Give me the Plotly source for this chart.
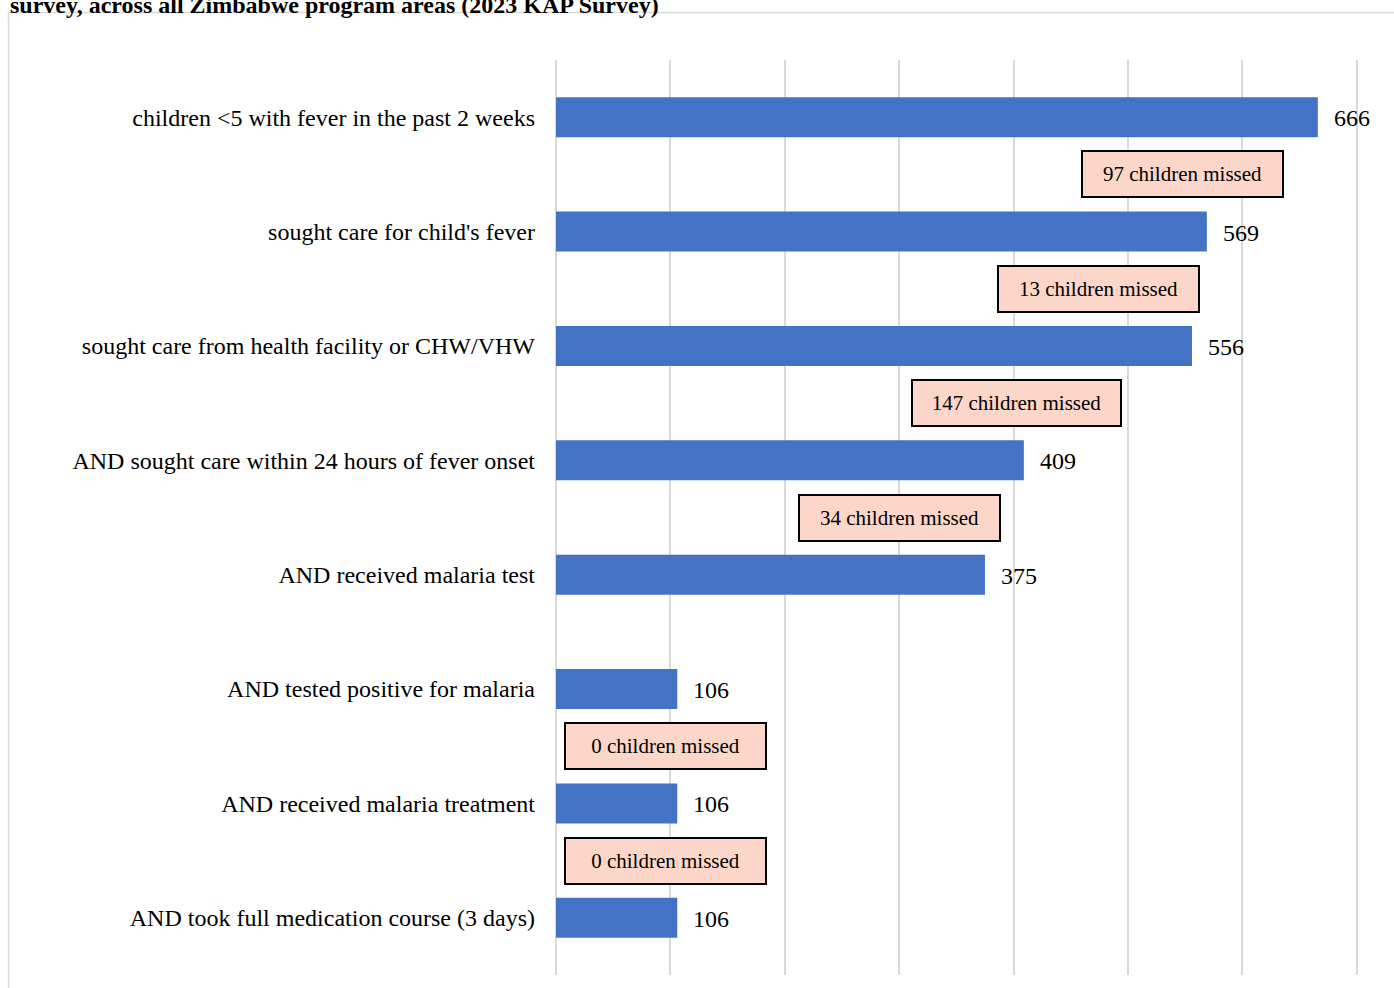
import plotly.graph_objects as go

categories = [
    "children <5 with fever in the past 2 weeks",
    "sought care for child's fever",
    "sought care from health facility or CHW/VHW",
    "AND sought care within 24 hours of fever onset",
    "AND received malaria test",
    "AND tested positive for malaria",
    "AND received malaria treatment",
    "AND took full medication course (3 days)",
]
values = [666, 569, 556, 409, 375, 106, 106, 106]

# "children missed" callouts: between step i and i+1
missed_after = [0, 1, 2, 3, 5, 6]
missed_x = [548, 474, 403, 300, 95.5, 95.5]  # callout centre, in axis units

title_text = "survey, across all Zimbabwe program areas (2023 KAP Survey)"

FONT = "Liberation Serif"
BAR = "#4472C4"
PEACH = "#FCD6C8"
GRID = "#D9D9D9"

W, H = 1394, 988
XMAX = 702
L, T, B = 556, 60, 13
px_per_unit = 801 / 700
R = W - L - round(XMAX * px_per_unit)
pw = W - L - R
ph = H - T - B

fig = go.Figure()
fig.add_trace(go.Bar(
    x=values, y=list(range(len(categories))), orientation="h",
    marker=dict(color=BAR, line=dict(width=0)), width=0.35,
    hoverinfo="skip",
))

annotations = []
for i, v in enumerate(values):
    annotations.append(dict(
        x=v, y=i, xref="x", yref="y", text=str(v), showarrow=False,
        xanchor="left", yanchor="middle", xshift=14, yshift=-1,
        font=dict(family=FONT, size=24, color="#000000"),
    ))

for idx, xc in zip(missed_after, missed_x):
    n = values[idx] - values[idx + 1]
    txt = f"{n} children missed"
    annotations.append(dict(
        x=xc, y=idx + 0.5, xref="x", yref="y", text=txt, showarrow=False,
        xanchor="center", yanchor="middle",
        width=203 if n >= 100 else 195, height=40,
        bgcolor=PEACH, bordercolor="#000000", borderwidth=2, borderpad=2,
        font=dict(family=FONT, size=21, color="#000000"),
    ))

annotations.append(dict(
    x=(8 - L) / pw, y=1 + (T - 5) / ph, xref="paper", yref="paper",
    text="<b>" + title_text + "</b>", showarrow=False,
    xanchor="left", yanchor="middle",
    font=dict(family=FONT, size=24, color="#000000"),
))

shapes = [dict(
    type="rect", xref="paper", yref="paper",
    x0=(8.5 - L) / pw, x1=1.2, y0=-0.2, y1=1 + (T - 12.5) / ph,
    line=dict(color=GRID, width=1.5), fillcolor="rgba(0,0,0,0)", layer="below",
)]

fig.update_layout(
    width=W, height=H,
    margin=dict(l=L, r=R, t=T, b=B, pad=0),
    paper_bgcolor="white", plot_bgcolor="white",
    showlegend=False,
    annotations=annotations, shapes=shapes,
    font=dict(family=FONT, size=24, color="#000000"),
    xaxis=dict(range=[0, XMAX], tickmode="array",
               tickvals=[0, 100, 200, 300, 400, 500, 600, 700],
               showgrid=True, gridcolor=GRID,
               gridwidth=2, showticklabels=False, zeroline=True,
               zerolinecolor=GRID, zerolinewidth=2, showline=False, ticks=""),
    yaxis=dict(range=[len(categories) - 0.5, -0.5],
               tickmode="array", tickvals=list(range(len(categories))),
               ticktext=categories, showgrid=False, zeroline=False,
               showline=False, ticks="", ticklabelstandoff=20,
               tickfont=dict(family=FONT, size=24, color="#000000")),
)

fig.write_html("out.html")
